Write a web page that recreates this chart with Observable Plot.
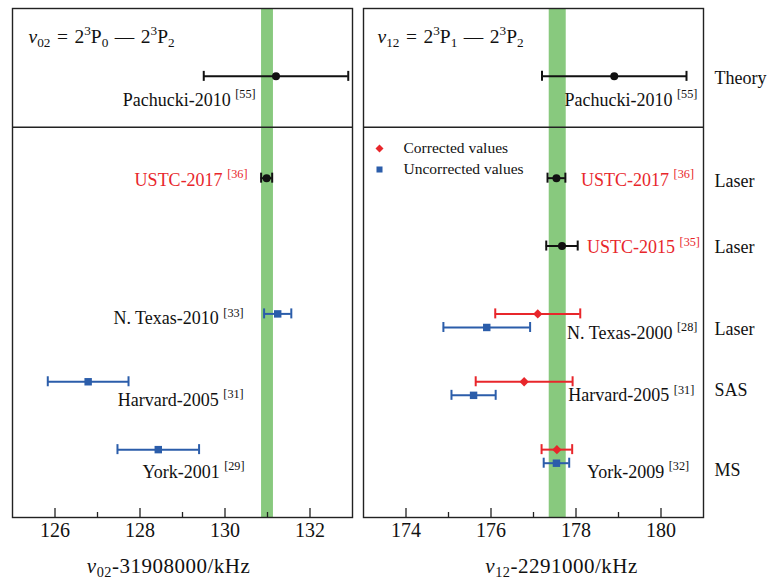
<!DOCTYPE html>
<html><head><meta charset="utf-8">
<script src="https://cdn.jsdelivr.net/npm/d3@7"></script>
<script src="https://cdn.jsdelivr.net/npm/@observablehq/plot@0.6"></script>
<style>
body{margin:0;background:#fff;}
#wrap{position:relative;width:768px;height:583px;overflow:hidden;}
#left,#right{position:absolute;top:0;}
#left{left:0}
#right{left:357px}
</style></head><body>
<div id="wrap"><div id="left"></div><div id="right"></div></div>
<script>
// ---------- data ----------
const leftTitle = "~{ν}_{02}\u2004=\u20042^{3}P_{0}\u2004—\u20042^{3}P_{2}";
const rightTitle = "~{ν}_{12}\u2004=\u20042^{3}P_{1}\u2004—\u20042^{3}P_{2}";
const leftAxisLabel = "~{ν}_{02}-31908000/kHz";
const rightAxisLabel = "~{ν}_{12}-2291000/kHz";
const leftDomain = [125, 133];
const rightDomain = [173, 181];
const leftMajorTicks = [126, 128, 130, 132];
const leftMinorTicks = [127, 129, 131];
const rightMajorTicks = [174, 176, 178, 180];
const rightMinorTicks = [175, 177, 179];
const leftBand = [130.86, 131.14];
const rightBand = [177.37, 177.77];
const rowDomain = [-1, 6.5];
const sectionDivider = 4.75;

const leftStudies = ["Pachucki-2010", "USTC-2017", "N. Texas-2010", "Harvard-2005", "York-2001"];
const leftRefs = ["55", "36", "33", "31", "29"];
const leftRows = [5.5, 4, 2, 1, 0];
const leftValues = [131.2, 130.98, 131.24, 126.78, 128.43];
const leftErrors = [1.7, 0.13, 0.32, 0.95, 0.96];
const leftKinds = ["theory", "ustc", "uncorrected", "uncorrected", "uncorrected"];

const rightStudies = ["Pachucki-2010", "USTC-2017", "USTC-2015", "N. Texas-2000", "Harvard-2005", "York-2009"];
const rightRefs = ["55", "36", "35", "28", "31", "32"];
const rightRows = [5.5, 4, 3, 2, 1, 0];
const rightValues = [178.9, 177.54, 177.67, 177.1, 176.78, 177.55];
const rightErrors = [1.7, 0.21, 0.37, 1.0, 1.14, 0.36];
const rightKinds = ["theory", "ustc", "ustc", "corrected", "corrected", "corrected"];

const uncorrectedStudies = ["N. Texas-2000", "Harvard-2005", "York-2009"];
const uncorrectedRows = [1.8, 0.8, -0.2];
const uncorrectedValues = [175.9, 175.59, 177.54];
const uncorrectedErrors = [1.02, 0.52, 0.3];

const methods = ["Theory", "Laser", "Laser", "Laser", "SAS", "MS"];
const legendLabels = ["Corrected values", "Uncorrected values"];

// ---------- label layout (annotation anchors) ----------
const leftLabelX = [130.72, 130.53, 130.44, 130.44, 130.46];
const leftLabelRows = [5.15, 3.97, 1.93, 0.73, -0.33];
const rightLabelX = [177.73, 178.12, 178.26, 177.79, 177.82, 178.26];
const rightLabelRows = [5.15, 3.97, 2.98, 1.72, 0.80, -0.33];
const methodRows = [5.47, 3.96, 2.98, 1.77, 0.88, -0.3];

// ---------- styles ----------
const GREEN = "#88c97e", RED = "#e8262b", BLUE = "#2b5daa", INK = "#111";
const kindColor = {theory: INK, ustc: INK, corrected: RED, uncorrected: BLUE};
const FONT = "'Liberation Serif', 'DejaVu Serif', serif";
const H = 583, MT = 8, MB = 66;
const pxPerRow = (H - MT - MB) / (rowDomain[1] - rowDomain[0]);

function buildPoints(names, rows, values, errors, kinds) {
  return names.map((n, i) => ({name: n, row: rows[i], value: values[i], err: errors[i], kind: kinds[i]}));
}
function buildLabels(names, refs, xs, rows, kinds) {
  return names.map((n, i) => ({text: `${n} ^{[${refs[i]}]}`, x: xs[i], row: rows[i], color: kinds[i] === "ustc" ? RED : INK}));
}

function errorMarks(points) {
  const cap = 5 / pxPerRow;
  const caps = points.flatMap(d => [
    {x: d.value - d.err, row: d.row, kind: d.kind},
    {x: d.value + d.err, row: d.row, kind: d.kind}
  ]);
  const marks = [
    Plot.ruleY(points, {y: "row", x1: d => d.value - d.err, x2: d => d.value + d.err, stroke: d => kindColor[d.kind], strokeWidth: 2}),
    Plot.ruleX(caps, {x: "x", y1: d => d.row - cap, y2: d => d.row + cap, stroke: d => kindColor[d.kind], strokeWidth: 2})
  ];
  const circ = points.filter(d => d.kind === "theory" || d.kind === "ustc");
  const dia = points.filter(d => d.kind === "corrected");
  const sq = points.filter(d => d.kind === "uncorrected");
  marks.push(Plot.dot(circ, {x: "value", y: "row", r: 4, fill: INK, symbol: "circle"}));
  marks.push(Plot.dot(dia, {x: "value", y: "row", r: 4.2, fill: RED, symbol: "diamond2"}));
  marks.push(Plot.dot(sq, {x: "value", y: "row", r: 4.2, fill: BLUE, symbol: "square"}));
  return marks;
}

function panel({points, labels, labelAnchor, band, domain, major, minor, title, axisLabel, axisDx, titleDx, width, marginLeft, marginRight, extra}) {
  return Plot.plot({
    width, height: H, marginTop: MT, marginBottom: MB, marginLeft, marginRight,
    x: {domain, axis: null},
    y: {domain: rowDomain, axis: null},
    color: {type: "identity"},
    style: {fontFamily: FONT, background: "white", color: INK},
    marks: [
      Plot.rect([band], {x1: d => d[0], x2: d => d[1], fill: GREEN}),
      Plot.ruleY([sectionDivider], {stroke: "#222", strokeWidth: 1.4}),
      Plot.ruleX(major, {x: d => d, y1: rowDomain[0], y2: rowDomain[0] + 9 / pxPerRow, stroke: "#222", strokeWidth: 1.3}),
      Plot.ruleX(minor, {x: d => d, y1: rowDomain[0], y2: rowDomain[0] + 5 / pxPerRow, stroke: "#222", strokeWidth: 1.3}),
      Plot.text(major, {x: d => d, frameAnchor: "bottom", dy: 19, text: d => String(d), fontSize: 20, fill: INK}),
      Plot.text([axisLabel], {frameAnchor: "bottom", dy: 55, dx: axisDx, text: d => d, fontSize: 21, fill: INK}),
      Plot.text([title], {frameAnchor: "top-left", dx: titleDx, dy: 28, text: d => d, textAnchor: "start", lineAnchor: "middle", fontSize: 19.5, fill: INK}),
      ...errorMarks(points),
      Plot.text(labels, {x: "x", y: "row", text: "text", textAnchor: labelAnchor, fill: "color", fontSize: 18}),
      ...(extra || []),
      Plot.frame({stroke: "#222", strokeWidth: 1.4})
    ]
  });
}

function richify(svg) {
  d3.select(svg).selectAll("text").each(function () {
    const el = this;
    const s = el.textContent;
    if (/kHz/.test(s)) el.setAttribute("letter-spacing", "0.5");
    if (!/[\^_~]\{/.test(s)) return;
    const fs = parseFloat(getComputedStyle(el).fontSize) || 16;
    while (el.firstChild) el.removeChild(el.firstChild);
    const re = /([\^_~])\{([^}]*)\}|([^\^_~]+)/g;
    let m, shift = 0;
    while ((m = re.exec(s))) {
      const t = document.createElementNS("http://www.w3.org/2000/svg", "tspan");
      let target = 0;
      if (m[1] === "^") { target = -0.42 * fs; t.setAttribute("font-size", 0.68 * fs); }
      else if (m[1] === "_") { target = 0.22 * fs; t.setAttribute("font-size", 0.68 * fs); }
      else if (m[1] === "~") { t.setAttribute("font-style", "italic"); }
      t.setAttribute("dy", target - shift);
      shift = target;
      t.textContent = m[1] ? m[2] : m[3];
      el.appendChild(t);
    }
  });
}

const leftPoints = buildPoints(leftStudies, leftRows, leftValues, leftErrors, leftKinds);
const rightPoints = buildPoints(rightStudies, rightRows, rightValues, rightErrors, rightKinds)
  .concat(buildPoints(uncorrectedStudies, uncorrectedRows, uncorrectedValues, uncorrectedErrors, uncorrectedStudies.map(() => "uncorrected")));

const leftPlot = panel({
  points: leftPoints,
  labels: buildLabels(leftStudies, leftRefs, leftLabelX, leftLabelRows, leftKinds),
  labelAnchor: "end",
  band: leftBand, domain: leftDomain, major: leftMajorTicks, minor: leftMinorTicks,
  title: leftTitle, axisLabel: leftAxisLabel, axisDx: -14, titleDx: 16,
  width: 357, marginLeft: 12, marginRight: 5
});

const rightPlot = panel({
  points: rightPoints,
  labels: buildLabels(rightStudies, rightRefs, rightLabelX, rightLabelRows, rightKinds),
  labelAnchor: "start",
  band: rightBand, domain: rightDomain, major: rightMajorTicks, minor: rightMinorTicks,
  title: rightTitle, axisLabel: rightAxisLabel, axisDx: 28, titleDx: 14,
  width: 411, marginLeft: 6, marginRight: 65,
  extra: [
    Plot.text(methods, {y: (d, i) => methodRows[i], frameAnchor: "right", dx: 11, text: d => d, textAnchor: "start", fontSize: 18, fill: INK}),
    Plot.dot([legendLabels[0]], {frameAnchor: "top-left", dx: 16, dy: 140, symbol: "diamond2", r: 3.6, fill: RED}),
    Plot.dot([legendLabels[1]], {frameAnchor: "top-left", dx: 16, dy: 161, symbol: "square", r: 3.4, fill: BLUE}),
    Plot.text([legendLabels[0]], {frameAnchor: "top-left", dx: 40, dy: 140, text: d => d, textAnchor: "start", lineAnchor: "middle", fontSize: 15.5, fill: INK}),
    Plot.text([legendLabels[1]], {frameAnchor: "top-left", dx: 40, dy: 161, text: d => d, textAnchor: "start", lineAnchor: "middle", fontSize: 15.5, fill: INK})
  ]
});

document.getElementById("left").appendChild(leftPlot);
document.getElementById("right").appendChild(rightPlot);
richify(leftPlot);
richify(rightPlot);
</script>
</body></html>
